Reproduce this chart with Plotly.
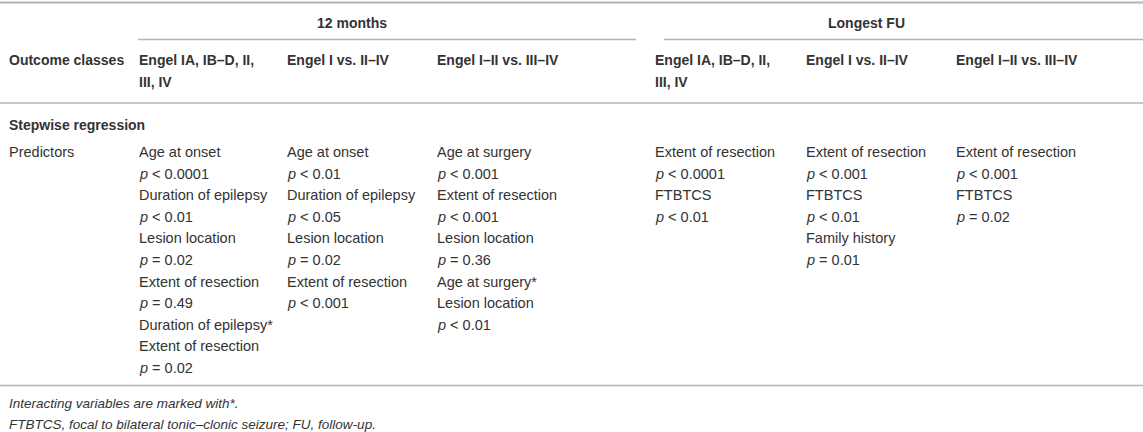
import plotly.graph_objects as go

W, H = 1143, 432

# ---- table content ----
group_headers = ["12 months", "Longest FU"]
col_label = "Outcome classes"
col_headers = [
    ["Engel IA, IB–D, II,", "III, IV"],
    ["Engel I vs. II–IV"],
    ["Engel I–II vs. III–IV"],
    ["Engel IA, IB–D, II,", "III, IV"],
    ["Engel I vs. II–IV"],
    ["Engel I–II vs. III–IV"],
]
section_title = "Stepwise regression"
row_label = "Predictors"
P = "<i>p</i>"
LT = "&nbsp;&lt;&nbsp;"
EQ = "&nbsp;=&nbsp;"
cells = [
    ["Age at onset", f"{P}{LT}0.0001", "Duration of epilepsy", f"{P}{LT}0.01",
     "Lesion location", f"{P}{EQ}0.02", "Extent of resection", f"{P}{EQ}0.49",
     "Duration of epilepsy*", "Extent of resection", f"{P}{EQ}0.02"],
    ["Age at onset", f"{P}{LT}0.01", "Duration of epilepsy", f"{P}{LT}0.05",
     "Lesion location", f"{P}{EQ}0.02", "Extent of resection", f"{P}{LT}0.001"],
    ["Age at surgery", f"{P}{LT}0.001", "Extent of resection", f"{P}{LT}0.001",
     "Lesion location", f"{P}{EQ}0.36", "Age at surgery*", "Lesion location",
     f"{P}{LT}0.01"],
    ["Extent of resection", f"{P}{LT}0.0001", "FTBTCS", f"{P}{LT}0.01"],
    ["Extent of resection", f"{P}{LT}0.001", "FTBTCS", f"{P}{LT}0.01",
     "Family history", f"{P}{EQ}0.01"],
    ["Extent of resection", f"{P}{LT}0.001", "FTBTCS", f"{P}{EQ}0.02"],
]
footnotes = [
    "Interacting variables are marked with*.",
    "FTBTCS, focal to bilateral tonic–clonic seizure; FU, follow-up.",
]

# ---- layout geometry ----
FONT = "Liberation Sans, Arial, sans-serif"
FS_BODY = 14.5
FS_HEAD = 14
FS_FOOT = 13.5
TXT = "#333333"
RULE = "#b4b4b4"
col_x = [8, 138, 286, 436, 654, 805, 955]
group_x = [353, 867]
y_group = 23
y_head = 60
line_h = 21.6
y_section = 125
y_body = 152
y_foot = [403, 424]

fig = go.Figure()
ann = []

def add(x, y, text, bold=False, italic=False, anchor="left", size=FS_BODY):
    t = text
    if bold:
        t = f"<b>{t}</b>"
    if italic:
        t = f"<i>{t}</i>"
    ann.append(dict(x=x, y=y, xref="x", yref="y", text=t, showarrow=False,
                    xanchor=anchor, yanchor="middle", xshift=-1,
                    font=dict(family=FONT, size=size, color=TXT)))

for gx, g in zip(group_x, group_headers):
    add(gx, y_group, g, bold=True, anchor="center", size=FS_HEAD)
add(col_x[0], y_head, col_label, bold=True, size=FS_HEAD)
for i, hdr in enumerate(col_headers):
    for j, line in enumerate(hdr):
        add(col_x[i + 1], y_head + j * line_h, line, bold=True, size=FS_HEAD)
add(col_x[0], y_section, section_title, bold=True, size=FS_HEAD)
add(col_x[0], y_body, row_label)
for i, col in enumerate(cells):
    for j, line in enumerate(col):
        add(col_x[i + 1], y_body + j * line_h, line)
for y, f in zip(y_foot, footnotes):
    add(col_x[0], y, f, italic=True, size=FS_FOOT)

shapes = []
def hline(x0, x1, y, w=1.8):
    shapes.append(dict(type="line", xref="x", yref="y", x0=x0, x1=x1, y0=y, y1=y,
                       line=dict(color=RULE, width=w)))

hline(0, W, 2.5)
hline(138, 636, 39.5, 1.5)
hline(664, W, 39.5, 1.5)
hline(0, W, 103, 1.5)
hline(0, W, 385.5, 1.5)

fig.update_layout(
    width=W, height=H,
    margin=dict(l=0, r=0, t=0, b=0),
    paper_bgcolor="white", plot_bgcolor="white",
    xaxis=dict(range=[0, W], visible=False, fixedrange=True),
    yaxis=dict(range=[H, 0], visible=False, fixedrange=True),
    annotations=ann, shapes=shapes, showlegend=False,
)
fig.write_html(
    "out.html",
    config={"displayModeBar": False},
    post_script="document.body.style.margin='0';document.body.style.overflow='hidden';",
)
